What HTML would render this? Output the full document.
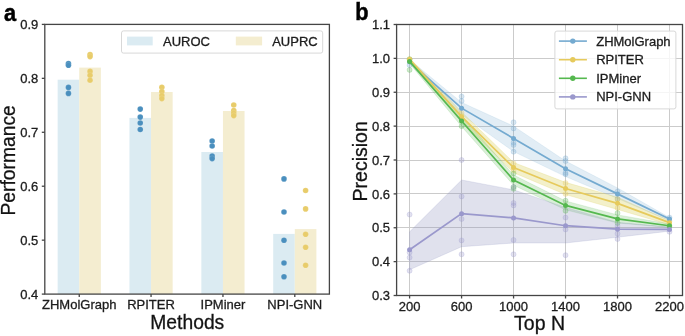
<!DOCTYPE html>
<html><head><meta charset="utf-8"><style>
html,body{margin:0;padding:0;background:#fff;width:685px;height:336px;overflow:hidden}
svg{display:block;will-change:transform}
</style></head><body>
<svg width="685" height="336" viewBox="0 0 685 336">
<rect width="685" height="336" fill="#fff"/>
<rect x="57.65" y="79.70" width="21.6" height="214.40" fill="#dbebf2"/>
<rect x="79.25" y="67.60" width="21.6" height="226.50" fill="#f4edd0"/>
<rect x="129.45" y="117.90" width="21.6" height="176.20" fill="#dbebf2"/>
<rect x="151.05" y="92.00" width="21.6" height="202.10" fill="#f4edd0"/>
<rect x="201.35" y="152.00" width="21.6" height="142.10" fill="#dbebf2"/>
<rect x="222.95" y="111.00" width="21.6" height="183.10" fill="#f4edd0"/>
<rect x="273.20" y="233.90" width="21.6" height="60.20" fill="#dbebf2"/>
<rect x="294.80" y="229.10" width="21.6" height="65.00" fill="#f4edd0"/>
<circle cx="68.45" cy="63.60" r="2.8" fill="#4a8fbe" stroke="#fff" stroke-opacity="0.22" stroke-width="0.5"/>
<circle cx="68.45" cy="65.20" r="2.8" fill="#4a8fbe" stroke="#fff" stroke-opacity="0.22" stroke-width="0.5"/>
<circle cx="68.45" cy="87.40" r="2.8" fill="#4a8fbe" stroke="#fff" stroke-opacity="0.22" stroke-width="0.5"/>
<circle cx="68.45" cy="93.40" r="2.8" fill="#4a8fbe" stroke="#fff" stroke-opacity="0.22" stroke-width="0.5"/>
<circle cx="90.05" cy="54.60" r="2.8" fill="#e8cc6a" stroke="#fff" stroke-opacity="0.22" stroke-width="0.5"/>
<circle cx="90.05" cy="56.60" r="2.8" fill="#e8cc6a" stroke="#fff" stroke-opacity="0.22" stroke-width="0.5"/>
<circle cx="90.05" cy="71.40" r="2.8" fill="#e8cc6a" stroke="#fff" stroke-opacity="0.22" stroke-width="0.5"/>
<circle cx="90.05" cy="75.30" r="2.8" fill="#e8cc6a" stroke="#fff" stroke-opacity="0.22" stroke-width="0.5"/>
<circle cx="90.05" cy="80.20" r="2.8" fill="#e8cc6a" stroke="#fff" stroke-opacity="0.22" stroke-width="0.5"/>
<circle cx="140.25" cy="109.10" r="2.8" fill="#4a8fbe" stroke="#fff" stroke-opacity="0.22" stroke-width="0.5"/>
<circle cx="140.25" cy="117.10" r="2.8" fill="#4a8fbe" stroke="#fff" stroke-opacity="0.22" stroke-width="0.5"/>
<circle cx="140.25" cy="123.00" r="2.8" fill="#4a8fbe" stroke="#fff" stroke-opacity="0.22" stroke-width="0.5"/>
<circle cx="140.25" cy="129.50" r="2.8" fill="#4a8fbe" stroke="#fff" stroke-opacity="0.22" stroke-width="0.5"/>
<circle cx="161.85" cy="87.30" r="2.8" fill="#e8cc6a" stroke="#fff" stroke-opacity="0.22" stroke-width="0.5"/>
<circle cx="161.85" cy="91.60" r="2.8" fill="#e8cc6a" stroke="#fff" stroke-opacity="0.22" stroke-width="0.5"/>
<circle cx="161.85" cy="95.50" r="2.8" fill="#e8cc6a" stroke="#fff" stroke-opacity="0.22" stroke-width="0.5"/>
<circle cx="161.85" cy="98.60" r="2.8" fill="#e8cc6a" stroke="#fff" stroke-opacity="0.22" stroke-width="0.5"/>
<circle cx="212.15" cy="141.00" r="2.8" fill="#4a8fbe" stroke="#fff" stroke-opacity="0.22" stroke-width="0.5"/>
<circle cx="212.15" cy="146.00" r="2.8" fill="#4a8fbe" stroke="#fff" stroke-opacity="0.22" stroke-width="0.5"/>
<circle cx="212.15" cy="156.00" r="2.8" fill="#4a8fbe" stroke="#fff" stroke-opacity="0.22" stroke-width="0.5"/>
<circle cx="212.15" cy="158.60" r="2.8" fill="#4a8fbe" stroke="#fff" stroke-opacity="0.22" stroke-width="0.5"/>
<circle cx="233.75" cy="105.00" r="2.8" fill="#e8cc6a" stroke="#fff" stroke-opacity="0.22" stroke-width="0.5"/>
<circle cx="233.75" cy="110.50" r="2.8" fill="#e8cc6a" stroke="#fff" stroke-opacity="0.22" stroke-width="0.5"/>
<circle cx="233.75" cy="113.00" r="2.8" fill="#e8cc6a" stroke="#fff" stroke-opacity="0.22" stroke-width="0.5"/>
<circle cx="233.75" cy="115.60" r="2.8" fill="#e8cc6a" stroke="#fff" stroke-opacity="0.22" stroke-width="0.5"/>
<circle cx="284.00" cy="178.90" r="2.8" fill="#4a8fbe" stroke="#fff" stroke-opacity="0.22" stroke-width="0.5"/>
<circle cx="284.00" cy="212.00" r="2.8" fill="#4a8fbe" stroke="#fff" stroke-opacity="0.22" stroke-width="0.5"/>
<circle cx="284.00" cy="240.20" r="2.8" fill="#4a8fbe" stroke="#fff" stroke-opacity="0.22" stroke-width="0.5"/>
<circle cx="284.00" cy="263.00" r="2.8" fill="#4a8fbe" stroke="#fff" stroke-opacity="0.22" stroke-width="0.5"/>
<circle cx="284.00" cy="276.80" r="2.8" fill="#4a8fbe" stroke="#fff" stroke-opacity="0.22" stroke-width="0.5"/>
<circle cx="305.60" cy="190.50" r="2.8" fill="#e8cc6a" stroke="#fff" stroke-opacity="0.22" stroke-width="0.5"/>
<circle cx="305.60" cy="208.90" r="2.8" fill="#e8cc6a" stroke="#fff" stroke-opacity="0.22" stroke-width="0.5"/>
<circle cx="305.60" cy="234.30" r="2.8" fill="#e8cc6a" stroke="#fff" stroke-opacity="0.22" stroke-width="0.5"/>
<circle cx="305.60" cy="247.30" r="2.8" fill="#e8cc6a" stroke="#fff" stroke-opacity="0.22" stroke-width="0.5"/>
<circle cx="305.60" cy="265.20" r="2.8" fill="#e8cc6a" stroke="#fff" stroke-opacity="0.22" stroke-width="0.5"/>
<rect x="44.8" y="24.4" width="284.60" height="269.70" fill="none" stroke="#454545" stroke-width="1.3"/>
<line x1="41.80" y1="294.10" x2="44.8" y2="294.10" stroke="#454545" stroke-width="1.3"/>
<text x="38.30" y="298.80" font-size="13" text-anchor="end" fill="#1a1a1a" font-family="Liberation Sans, sans-serif" stroke="#222" stroke-width="0.3">0.4</text>
<line x1="41.80" y1="240.16" x2="44.8" y2="240.16" stroke="#454545" stroke-width="1.3"/>
<text x="38.30" y="244.86" font-size="13" text-anchor="end" fill="#1a1a1a" font-family="Liberation Sans, sans-serif" stroke="#222" stroke-width="0.3">0.5</text>
<line x1="41.80" y1="186.22" x2="44.8" y2="186.22" stroke="#454545" stroke-width="1.3"/>
<text x="38.30" y="190.92" font-size="13" text-anchor="end" fill="#1a1a1a" font-family="Liberation Sans, sans-serif" stroke="#222" stroke-width="0.3">0.6</text>
<line x1="41.80" y1="132.28" x2="44.8" y2="132.28" stroke="#454545" stroke-width="1.3"/>
<text x="38.30" y="136.98" font-size="13" text-anchor="end" fill="#1a1a1a" font-family="Liberation Sans, sans-serif" stroke="#222" stroke-width="0.3">0.7</text>
<line x1="41.80" y1="78.34" x2="44.8" y2="78.34" stroke="#454545" stroke-width="1.3"/>
<text x="38.30" y="83.04" font-size="13" text-anchor="end" fill="#1a1a1a" font-family="Liberation Sans, sans-serif" stroke="#222" stroke-width="0.3">0.8</text>
<line x1="41.80" y1="24.40" x2="44.8" y2="24.40" stroke="#454545" stroke-width="1.3"/>
<text x="38.30" y="29.10" font-size="13" text-anchor="end" fill="#1a1a1a" font-family="Liberation Sans, sans-serif" stroke="#222" stroke-width="0.3">0.9</text>
<line x1="79.25" y1="294.1" x2="79.25" y2="296.90000000000003" stroke="#454545" stroke-width="1.3"/>
<text x="79.25" y="309.30" font-size="13" text-anchor="middle" fill="#1a1a1a" font-family="Liberation Sans, sans-serif" stroke="#222" stroke-width="0.3">ZHMolGraph</text>
<line x1="151.05" y1="294.1" x2="151.05" y2="296.90000000000003" stroke="#454545" stroke-width="1.3"/>
<text x="151.05" y="309.30" font-size="13" text-anchor="middle" fill="#1a1a1a" font-family="Liberation Sans, sans-serif" stroke="#222" stroke-width="0.3">RPITER</text>
<line x1="222.95" y1="294.1" x2="222.95" y2="296.90000000000003" stroke="#454545" stroke-width="1.3"/>
<text x="222.95" y="309.30" font-size="13" text-anchor="middle" fill="#1a1a1a" font-family="Liberation Sans, sans-serif" stroke="#222" stroke-width="0.3">IPMiner</text>
<line x1="294.8" y1="294.1" x2="294.8" y2="296.90000000000003" stroke="#454545" stroke-width="1.3"/>
<text x="294.8" y="309.30" font-size="13" text-anchor="middle" fill="#1a1a1a" font-family="Liberation Sans, sans-serif" stroke="#222" stroke-width="0.3">NPI-GNN</text>
<text x="187.3" y="328.5" font-size="19.3" text-anchor="middle" fill="#111" font-family="Liberation Sans, sans-serif" stroke="#222" stroke-width="0.3">Methods</text>
<text transform="translate(15.3,160.4) rotate(-90)" font-size="19.3" text-anchor="middle" fill="#111" font-family="Liberation Sans, sans-serif" stroke="#222" stroke-width="0.3">Performance</text>
<text transform="translate(4.0,21.2) scale(0.9,1)" font-size="24.2" font-weight="bold" fill="#000" font-family="Liberation Sans, sans-serif" stroke="#000" stroke-width="0.5">a</text>
<rect x="121.5" y="30.9" width="201.2" height="22.2" rx="2" fill="#fff" fill-opacity="0.8" stroke="#d8d8d8" stroke-width="1"/>
<rect x="127" y="36.6" width="25.7" height="8.8" fill="#dbebf2"/>
<text x="163" y="45.6" font-size="13" fill="#1a1a1a" font-family="Liberation Sans, sans-serif" stroke="#222" stroke-width="0.3">AUROC</text>
<rect x="235.8" y="36.6" width="26.3" height="8.8" fill="#f4edd0"/>
<text x="272.2" y="45.6" font-size="13" fill="#1a1a1a" font-family="Liberation Sans, sans-serif" stroke="#222" stroke-width="0.3">AUPRC</text>
<line x1="409.5" y1="24.5" x2="409.5" y2="295.5" stroke="#cbcbcb" stroke-width="1"/>
<line x1="461.5" y1="24.5" x2="461.5" y2="295.5" stroke="#cbcbcb" stroke-width="1"/>
<line x1="513.5" y1="24.5" x2="513.5" y2="295.5" stroke="#cbcbcb" stroke-width="1"/>
<line x1="565.5" y1="24.5" x2="565.5" y2="295.5" stroke="#cbcbcb" stroke-width="1"/>
<line x1="617.5" y1="24.5" x2="617.5" y2="295.5" stroke="#cbcbcb" stroke-width="1"/>
<line x1="669.5" y1="24.5" x2="669.5" y2="295.5" stroke="#cbcbcb" stroke-width="1"/>
<line x1="396.6" y1="261.5" x2="682.5" y2="261.5" stroke="#cbcbcb" stroke-width="1"/>
<line x1="396.6" y1="227.5" x2="682.5" y2="227.5" stroke="#cbcbcb" stroke-width="1"/>
<line x1="396.6" y1="193.5" x2="682.5" y2="193.5" stroke="#cbcbcb" stroke-width="1"/>
<line x1="396.6" y1="160.5" x2="682.5" y2="160.5" stroke="#cbcbcb" stroke-width="1"/>
<line x1="396.6" y1="126.5" x2="682.5" y2="126.5" stroke="#cbcbcb" stroke-width="1"/>
<line x1="396.6" y1="92.5" x2="682.5" y2="92.5" stroke="#cbcbcb" stroke-width="1"/>
<line x1="396.6" y1="58.5" x2="682.5" y2="58.5" stroke="#cbcbcb" stroke-width="1"/>
<polygon points="409.60,59.73 461.58,102.41 513.56,126.13 565.54,161.02 617.52,187.95 669.50,217.59 669.50,220.64 617.52,198.48 565.54,176.60 513.56,151.53 461.58,114.61 409.60,63.80" fill="#6ea6cc" fill-opacity="0.2" stroke="#6ea6cc" stroke-opacity="0.2" stroke-width="0.7"/>
<polygon points="409.60,58.04 461.58,111.90 513.56,162.51 565.54,182.36 617.52,197.26 669.50,220.64 669.50,224.70 617.52,209.46 565.54,194.55 513.56,172.67 461.58,121.38 409.60,60.75" fill="#d8cc50" fill-opacity="0.3" stroke="#d8cc50" stroke-opacity="0.3" stroke-width="0.7"/>
<polygon points="409.60,59.39 461.58,115.62 513.56,175.01 565.54,200.99 617.52,214.88 669.50,224.02 669.50,227.41 617.52,223.01 565.54,209.80 513.56,185.17 461.58,126.46 409.60,63.46" fill="#55b84f" fill-opacity="0.22" stroke="#55b84f" stroke-opacity="0.22" stroke-width="0.7"/>
<polygon points="409.60,231.82 461.58,179.99 513.56,189.81 565.54,207.42 617.52,222.33 669.50,227.07 669.50,231.14 617.52,237.24 565.54,242.99 513.56,242.99 461.58,246.72 409.60,269.75" fill="#8f94c0" fill-opacity="0.28" stroke="#8f94c0" stroke-opacity="0.28" stroke-width="0.7"/>
<circle cx="409.60" cy="65.15" r="2.5" fill="#74aad0" fill-opacity="0.28" stroke="#74aad0" stroke-opacity="0.35" stroke-width="0.7"/>
<circle cx="461.58" cy="96.48" r="2.5" fill="#74aad0" fill-opacity="0.28" stroke="#74aad0" stroke-opacity="0.35" stroke-width="0.7"/>
<circle cx="461.58" cy="100.99" r="2.5" fill="#74aad0" fill-opacity="0.28" stroke="#74aad0" stroke-opacity="0.35" stroke-width="0.7"/>
<circle cx="513.56" cy="122.30" r="2.5" fill="#74aad0" fill-opacity="0.28" stroke="#74aad0" stroke-opacity="0.35" stroke-width="0.7"/>
<circle cx="513.56" cy="128.39" r="2.5" fill="#74aad0" fill-opacity="0.28" stroke="#74aad0" stroke-opacity="0.35" stroke-width="0.7"/>
<circle cx="513.56" cy="142.79" r="2.5" fill="#74aad0" fill-opacity="0.28" stroke="#74aad0" stroke-opacity="0.35" stroke-width="0.7"/>
<circle cx="513.56" cy="144.89" r="2.5" fill="#74aad0" fill-opacity="0.28" stroke="#74aad0" stroke-opacity="0.35" stroke-width="0.7"/>
<circle cx="513.56" cy="151.70" r="2.5" fill="#74aad0" fill-opacity="0.28" stroke="#74aad0" stroke-opacity="0.35" stroke-width="0.7"/>
<circle cx="565.54" cy="158.31" r="2.5" fill="#74aad0" fill-opacity="0.28" stroke="#74aad0" stroke-opacity="0.35" stroke-width="0.7"/>
<circle cx="565.54" cy="161.02" r="2.5" fill="#74aad0" fill-opacity="0.28" stroke="#74aad0" stroke-opacity="0.35" stroke-width="0.7"/>
<circle cx="565.54" cy="172.87" r="2.5" fill="#74aad0" fill-opacity="0.28" stroke="#74aad0" stroke-opacity="0.35" stroke-width="0.7"/>
<circle cx="565.54" cy="174.23" r="2.5" fill="#74aad0" fill-opacity="0.28" stroke="#74aad0" stroke-opacity="0.35" stroke-width="0.7"/>
<circle cx="617.52" cy="191.50" r="2.5" fill="#74aad0" fill-opacity="0.28" stroke="#74aad0" stroke-opacity="0.35" stroke-width="0.7"/>
<circle cx="617.52" cy="198.96" r="2.5" fill="#74aad0" fill-opacity="0.28" stroke="#74aad0" stroke-opacity="0.35" stroke-width="0.7"/>
<circle cx="669.50" cy="217.59" r="2.5" fill="#74aad0" fill-opacity="0.28" stroke="#74aad0" stroke-opacity="0.35" stroke-width="0.7"/>
<circle cx="409.60" cy="59.05" r="2.5" fill="#e6ca5c" fill-opacity="0.28" stroke="#e6ca5c" stroke-opacity="0.35" stroke-width="0.7"/>
<circle cx="461.58" cy="112.91" r="2.5" fill="#e6ca5c" fill-opacity="0.28" stroke="#e6ca5c" stroke-opacity="0.35" stroke-width="0.7"/>
<circle cx="513.56" cy="163.39" r="2.5" fill="#e6ca5c" fill-opacity="0.28" stroke="#e6ca5c" stroke-opacity="0.35" stroke-width="0.7"/>
<circle cx="513.56" cy="170.16" r="2.5" fill="#e6ca5c" fill-opacity="0.28" stroke="#e6ca5c" stroke-opacity="0.35" stroke-width="0.7"/>
<circle cx="565.54" cy="183.04" r="2.5" fill="#e6ca5c" fill-opacity="0.28" stroke="#e6ca5c" stroke-opacity="0.35" stroke-width="0.7"/>
<circle cx="565.54" cy="193.88" r="2.5" fill="#e6ca5c" fill-opacity="0.28" stroke="#e6ca5c" stroke-opacity="0.35" stroke-width="0.7"/>
<circle cx="617.52" cy="198.96" r="2.5" fill="#e6ca5c" fill-opacity="0.28" stroke="#e6ca5c" stroke-opacity="0.35" stroke-width="0.7"/>
<circle cx="617.52" cy="208.10" r="2.5" fill="#e6ca5c" fill-opacity="0.28" stroke="#e6ca5c" stroke-opacity="0.35" stroke-width="0.7"/>
<circle cx="669.50" cy="220.97" r="2.5" fill="#e6ca5c" fill-opacity="0.28" stroke="#e6ca5c" stroke-opacity="0.35" stroke-width="0.7"/>
<circle cx="409.60" cy="59.22" r="2.5" fill="#55b84f" fill-opacity="0.28" stroke="#55b84f" stroke-opacity="0.35" stroke-width="0.7"/>
<circle cx="409.60" cy="69.89" r="2.5" fill="#55b84f" fill-opacity="0.28" stroke="#55b84f" stroke-opacity="0.35" stroke-width="0.7"/>
<circle cx="461.58" cy="126.13" r="2.5" fill="#55b84f" fill-opacity="0.28" stroke="#55b84f" stroke-opacity="0.35" stroke-width="0.7"/>
<circle cx="461.58" cy="118.91" r="2.5" fill="#55b84f" fill-opacity="0.28" stroke="#55b84f" stroke-opacity="0.35" stroke-width="0.7"/>
<circle cx="513.56" cy="173.55" r="2.5" fill="#55b84f" fill-opacity="0.28" stroke="#55b84f" stroke-opacity="0.35" stroke-width="0.7"/>
<circle cx="513.56" cy="187.10" r="2.5" fill="#55b84f" fill-opacity="0.28" stroke="#55b84f" stroke-opacity="0.35" stroke-width="0.7"/>
<circle cx="513.56" cy="188.79" r="2.5" fill="#55b84f" fill-opacity="0.28" stroke="#55b84f" stroke-opacity="0.35" stroke-width="0.7"/>
<circle cx="565.54" cy="200.65" r="2.5" fill="#55b84f" fill-opacity="0.28" stroke="#55b84f" stroke-opacity="0.35" stroke-width="0.7"/>
<circle cx="565.54" cy="210.81" r="2.5" fill="#55b84f" fill-opacity="0.28" stroke="#55b84f" stroke-opacity="0.35" stroke-width="0.7"/>
<circle cx="617.52" cy="213.12" r="2.5" fill="#55b84f" fill-opacity="0.28" stroke="#55b84f" stroke-opacity="0.35" stroke-width="0.7"/>
<circle cx="617.52" cy="223.01" r="2.5" fill="#55b84f" fill-opacity="0.28" stroke="#55b84f" stroke-opacity="0.35" stroke-width="0.7"/>
<circle cx="669.50" cy="226.06" r="2.5" fill="#55b84f" fill-opacity="0.28" stroke="#55b84f" stroke-opacity="0.35" stroke-width="0.7"/>
<circle cx="409.60" cy="214.54" r="2.5" fill="#9a98cc" fill-opacity="0.28" stroke="#9a98cc" stroke-opacity="0.35" stroke-width="0.7"/>
<circle cx="409.60" cy="252.48" r="2.5" fill="#9a98cc" fill-opacity="0.28" stroke="#9a98cc" stroke-opacity="0.35" stroke-width="0.7"/>
<circle cx="409.60" cy="257.56" r="2.5" fill="#9a98cc" fill-opacity="0.28" stroke="#9a98cc" stroke-opacity="0.35" stroke-width="0.7"/>
<circle cx="409.60" cy="270.77" r="2.5" fill="#9a98cc" fill-opacity="0.28" stroke="#9a98cc" stroke-opacity="0.35" stroke-width="0.7"/>
<circle cx="461.58" cy="160.00" r="2.5" fill="#9a98cc" fill-opacity="0.28" stroke="#9a98cc" stroke-opacity="0.35" stroke-width="0.7"/>
<circle cx="461.58" cy="196.42" r="2.5" fill="#9a98cc" fill-opacity="0.28" stroke="#9a98cc" stroke-opacity="0.35" stroke-width="0.7"/>
<circle cx="461.58" cy="219.01" r="2.5" fill="#9a98cc" fill-opacity="0.28" stroke="#9a98cc" stroke-opacity="0.35" stroke-width="0.7"/>
<circle cx="461.58" cy="240.39" r="2.5" fill="#9a98cc" fill-opacity="0.28" stroke="#9a98cc" stroke-opacity="0.35" stroke-width="0.7"/>
<circle cx="461.58" cy="254.31" r="2.5" fill="#9a98cc" fill-opacity="0.28" stroke="#9a98cc" stroke-opacity="0.35" stroke-width="0.7"/>
<circle cx="513.56" cy="187.10" r="2.5" fill="#9a98cc" fill-opacity="0.28" stroke="#9a98cc" stroke-opacity="0.35" stroke-width="0.7"/>
<circle cx="513.56" cy="203.02" r="2.5" fill="#9a98cc" fill-opacity="0.28" stroke="#9a98cc" stroke-opacity="0.35" stroke-width="0.7"/>
<circle cx="513.56" cy="205.39" r="2.5" fill="#9a98cc" fill-opacity="0.28" stroke="#9a98cc" stroke-opacity="0.35" stroke-width="0.7"/>
<circle cx="513.56" cy="239.95" r="2.5" fill="#9a98cc" fill-opacity="0.28" stroke="#9a98cc" stroke-opacity="0.35" stroke-width="0.7"/>
<circle cx="513.56" cy="254.31" r="2.5" fill="#9a98cc" fill-opacity="0.28" stroke="#9a98cc" stroke-opacity="0.35" stroke-width="0.7"/>
<circle cx="565.54" cy="217.59" r="2.5" fill="#9a98cc" fill-opacity="0.28" stroke="#9a98cc" stroke-opacity="0.35" stroke-width="0.7"/>
<circle cx="565.54" cy="229.44" r="2.5" fill="#9a98cc" fill-opacity="0.28" stroke="#9a98cc" stroke-opacity="0.35" stroke-width="0.7"/>
<circle cx="565.54" cy="255.19" r="2.5" fill="#9a98cc" fill-opacity="0.28" stroke="#9a98cc" stroke-opacity="0.35" stroke-width="0.7"/>
<circle cx="617.52" cy="225.99" r="2.5" fill="#9a98cc" fill-opacity="0.28" stroke="#9a98cc" stroke-opacity="0.35" stroke-width="0.7"/>
<circle cx="617.52" cy="233.71" r="2.5" fill="#9a98cc" fill-opacity="0.28" stroke="#9a98cc" stroke-opacity="0.35" stroke-width="0.7"/>
<circle cx="617.52" cy="239.00" r="2.5" fill="#9a98cc" fill-opacity="0.28" stroke="#9a98cc" stroke-opacity="0.35" stroke-width="0.7"/>
<circle cx="669.50" cy="231.82" r="2.5" fill="#9a98cc" fill-opacity="0.28" stroke="#9a98cc" stroke-opacity="0.35" stroke-width="0.7"/>
<polyline points="409.60,61.76 461.58,108.17 513.56,138.42 565.54,168.64 617.52,193.88 669.50,219.11" fill="none" stroke="#74aad0" stroke-width="1.7"/>
<circle cx="409.60" cy="61.76" r="2.5" fill="#74aad0"/>
<circle cx="461.58" cy="108.17" r="2.5" fill="#74aad0"/>
<circle cx="513.56" cy="138.42" r="2.5" fill="#74aad0"/>
<circle cx="565.54" cy="168.64" r="2.5" fill="#74aad0"/>
<circle cx="617.52" cy="193.88" r="2.5" fill="#74aad0"/>
<circle cx="669.50" cy="219.11" r="2.5" fill="#74aad0"/>
<polyline points="409.60,59.39 461.58,116.64 513.56,167.59 565.54,188.46 617.52,203.36 669.50,222.67" fill="none" stroke="#e6ca5c" stroke-width="1.7"/>
<circle cx="409.60" cy="59.39" r="2.5" fill="#e6ca5c"/>
<circle cx="461.58" cy="116.64" r="2.5" fill="#e6ca5c"/>
<circle cx="513.56" cy="167.59" r="2.5" fill="#e6ca5c"/>
<circle cx="565.54" cy="188.46" r="2.5" fill="#e6ca5c"/>
<circle cx="617.52" cy="203.36" r="2.5" fill="#e6ca5c"/>
<circle cx="669.50" cy="222.67" r="2.5" fill="#e6ca5c"/>
<polyline points="409.60,61.42 461.58,121.04 513.56,180.09 565.54,205.39 617.52,218.94 669.50,225.72" fill="none" stroke="#55b84f" stroke-width="1.7"/>
<circle cx="409.60" cy="61.42" r="2.5" fill="#55b84f"/>
<circle cx="461.58" cy="121.04" r="2.5" fill="#55b84f"/>
<circle cx="513.56" cy="180.09" r="2.5" fill="#55b84f"/>
<circle cx="565.54" cy="205.39" r="2.5" fill="#55b84f"/>
<circle cx="617.52" cy="218.94" r="2.5" fill="#55b84f"/>
<circle cx="669.50" cy="225.72" r="2.5" fill="#55b84f"/>
<polyline points="409.60,249.77 461.58,213.66 513.56,217.93 565.54,225.72 617.52,229.21 669.50,229.44" fill="none" stroke="#9a98cc" stroke-width="1.7"/>
<circle cx="409.60" cy="249.77" r="2.5" fill="#9a98cc"/>
<circle cx="461.58" cy="213.66" r="2.5" fill="#9a98cc"/>
<circle cx="513.56" cy="217.93" r="2.5" fill="#9a98cc"/>
<circle cx="565.54" cy="225.72" r="2.5" fill="#9a98cc"/>
<circle cx="617.52" cy="229.21" r="2.5" fill="#9a98cc"/>
<circle cx="669.50" cy="229.44" r="2.5" fill="#9a98cc"/>
<rect x="396.6" y="24.5" width="285.90" height="271.00" fill="none" stroke="#454545" stroke-width="1.3"/>
<line x1="393.60" y1="295.50" x2="396.6" y2="295.50" stroke="#454545" stroke-width="1.3"/>
<text x="390.10" y="300.20" font-size="13" text-anchor="end" fill="#1a1a1a" font-family="Liberation Sans, sans-serif" stroke="#222" stroke-width="0.3">0.3</text>
<line x1="393.60" y1="261.62" x2="396.6" y2="261.62" stroke="#454545" stroke-width="1.3"/>
<text x="390.10" y="266.32" font-size="13" text-anchor="end" fill="#1a1a1a" font-family="Liberation Sans, sans-serif" stroke="#222" stroke-width="0.3">0.4</text>
<line x1="393.60" y1="227.75" x2="396.6" y2="227.75" stroke="#454545" stroke-width="1.3"/>
<text x="390.10" y="232.45" font-size="13" text-anchor="end" fill="#1a1a1a" font-family="Liberation Sans, sans-serif" stroke="#222" stroke-width="0.3">0.5</text>
<line x1="393.60" y1="193.88" x2="396.6" y2="193.88" stroke="#454545" stroke-width="1.3"/>
<text x="390.10" y="198.57" font-size="13" text-anchor="end" fill="#1a1a1a" font-family="Liberation Sans, sans-serif" stroke="#222" stroke-width="0.3">0.6</text>
<line x1="393.60" y1="160.00" x2="396.6" y2="160.00" stroke="#454545" stroke-width="1.3"/>
<text x="390.10" y="164.70" font-size="13" text-anchor="end" fill="#1a1a1a" font-family="Liberation Sans, sans-serif" stroke="#222" stroke-width="0.3">0.7</text>
<line x1="393.60" y1="126.13" x2="396.6" y2="126.13" stroke="#454545" stroke-width="1.3"/>
<text x="390.10" y="130.83" font-size="13" text-anchor="end" fill="#1a1a1a" font-family="Liberation Sans, sans-serif" stroke="#222" stroke-width="0.3">0.8</text>
<line x1="393.60" y1="92.25" x2="396.6" y2="92.25" stroke="#454545" stroke-width="1.3"/>
<text x="390.10" y="96.95" font-size="13" text-anchor="end" fill="#1a1a1a" font-family="Liberation Sans, sans-serif" stroke="#222" stroke-width="0.3">0.9</text>
<line x1="393.60" y1="58.38" x2="396.6" y2="58.38" stroke="#454545" stroke-width="1.3"/>
<text x="390.10" y="63.08" font-size="13" text-anchor="end" fill="#1a1a1a" font-family="Liberation Sans, sans-serif" stroke="#222" stroke-width="0.3">1.0</text>
<line x1="393.60" y1="24.50" x2="396.6" y2="24.50" stroke="#454545" stroke-width="1.3"/>
<text x="390.10" y="29.20" font-size="13" text-anchor="end" fill="#1a1a1a" font-family="Liberation Sans, sans-serif" stroke="#222" stroke-width="0.3">1.1</text>
<line x1="409.60" y1="295.5" x2="409.60" y2="298.5" stroke="#454545" stroke-width="1.3"/>
<text x="409.60" y="311.20" font-size="13" text-anchor="middle" fill="#1a1a1a" font-family="Liberation Sans, sans-serif" stroke="#222" stroke-width="0.3">200</text>
<line x1="461.58" y1="295.5" x2="461.58" y2="298.5" stroke="#454545" stroke-width="1.3"/>
<text x="461.58" y="311.20" font-size="13" text-anchor="middle" fill="#1a1a1a" font-family="Liberation Sans, sans-serif" stroke="#222" stroke-width="0.3">600</text>
<line x1="513.56" y1="295.5" x2="513.56" y2="298.5" stroke="#454545" stroke-width="1.3"/>
<text x="513.56" y="311.20" font-size="13" text-anchor="middle" fill="#1a1a1a" font-family="Liberation Sans, sans-serif" stroke="#222" stroke-width="0.3">1000</text>
<line x1="565.54" y1="295.5" x2="565.54" y2="298.5" stroke="#454545" stroke-width="1.3"/>
<text x="565.54" y="311.20" font-size="13" text-anchor="middle" fill="#1a1a1a" font-family="Liberation Sans, sans-serif" stroke="#222" stroke-width="0.3">1400</text>
<line x1="617.52" y1="295.5" x2="617.52" y2="298.5" stroke="#454545" stroke-width="1.3"/>
<text x="617.52" y="311.20" font-size="13" text-anchor="middle" fill="#1a1a1a" font-family="Liberation Sans, sans-serif" stroke="#222" stroke-width="0.3">1800</text>
<line x1="669.50" y1="295.5" x2="669.50" y2="298.5" stroke="#454545" stroke-width="1.3"/>
<text x="669.50" y="311.20" font-size="13" text-anchor="middle" fill="#1a1a1a" font-family="Liberation Sans, sans-serif" stroke="#222" stroke-width="0.3">2200</text>
<text x="539.6" y="330.3" font-size="19.5" text-anchor="middle" fill="#111" font-family="Liberation Sans, sans-serif" stroke="#222" stroke-width="0.3">Top N</text>
<text transform="translate(367,161.3) rotate(-90)" font-size="19.5" text-anchor="middle" fill="#111" font-family="Liberation Sans, sans-serif" stroke="#222" stroke-width="0.3">Precision</text>
<text transform="translate(355.2,19.5) scale(0.9,1)" font-size="24.2" font-weight="bold" fill="#000" font-family="Liberation Sans, sans-serif" stroke="#000" stroke-width="0.5">b</text>
<rect x="554.9" y="31.1" width="121" height="77.8" rx="2" fill="#fff" fill-opacity="0.8" stroke="#d8d8d8" stroke-width="1"/>
<line x1="558.9" y1="41.10" x2="586.9" y2="41.10" stroke="#74aad0" stroke-width="1.6"/>
<circle cx="572.8" cy="41.10" r="2.7" fill="#74aad0"/>
<text x="596.2" y="45.60" font-size="13" fill="#1a1a1a" font-family="Liberation Sans, sans-serif" stroke="#222" stroke-width="0.3">ZHMolGraph</text>
<line x1="558.9" y1="59.70" x2="586.9" y2="59.70" stroke="#e6ca5c" stroke-width="1.6"/>
<circle cx="572.8" cy="59.70" r="2.7" fill="#e6ca5c"/>
<text x="596.2" y="64.20" font-size="13" fill="#1a1a1a" font-family="Liberation Sans, sans-serif" stroke="#222" stroke-width="0.3">RPITER</text>
<line x1="558.9" y1="78.30" x2="586.9" y2="78.30" stroke="#55b84f" stroke-width="1.6"/>
<circle cx="572.8" cy="78.30" r="2.7" fill="#55b84f"/>
<text x="596.2" y="82.80" font-size="13" fill="#1a1a1a" font-family="Liberation Sans, sans-serif" stroke="#222" stroke-width="0.3">IPMiner</text>
<line x1="558.9" y1="96.90" x2="586.9" y2="96.90" stroke="#9a98cc" stroke-width="1.6"/>
<circle cx="572.8" cy="96.90" r="2.7" fill="#9a98cc"/>
<text x="596.2" y="101.40" font-size="13" fill="#1a1a1a" font-family="Liberation Sans, sans-serif" stroke="#222" stroke-width="0.3">NPI-GNN</text>
</svg></body></html>
